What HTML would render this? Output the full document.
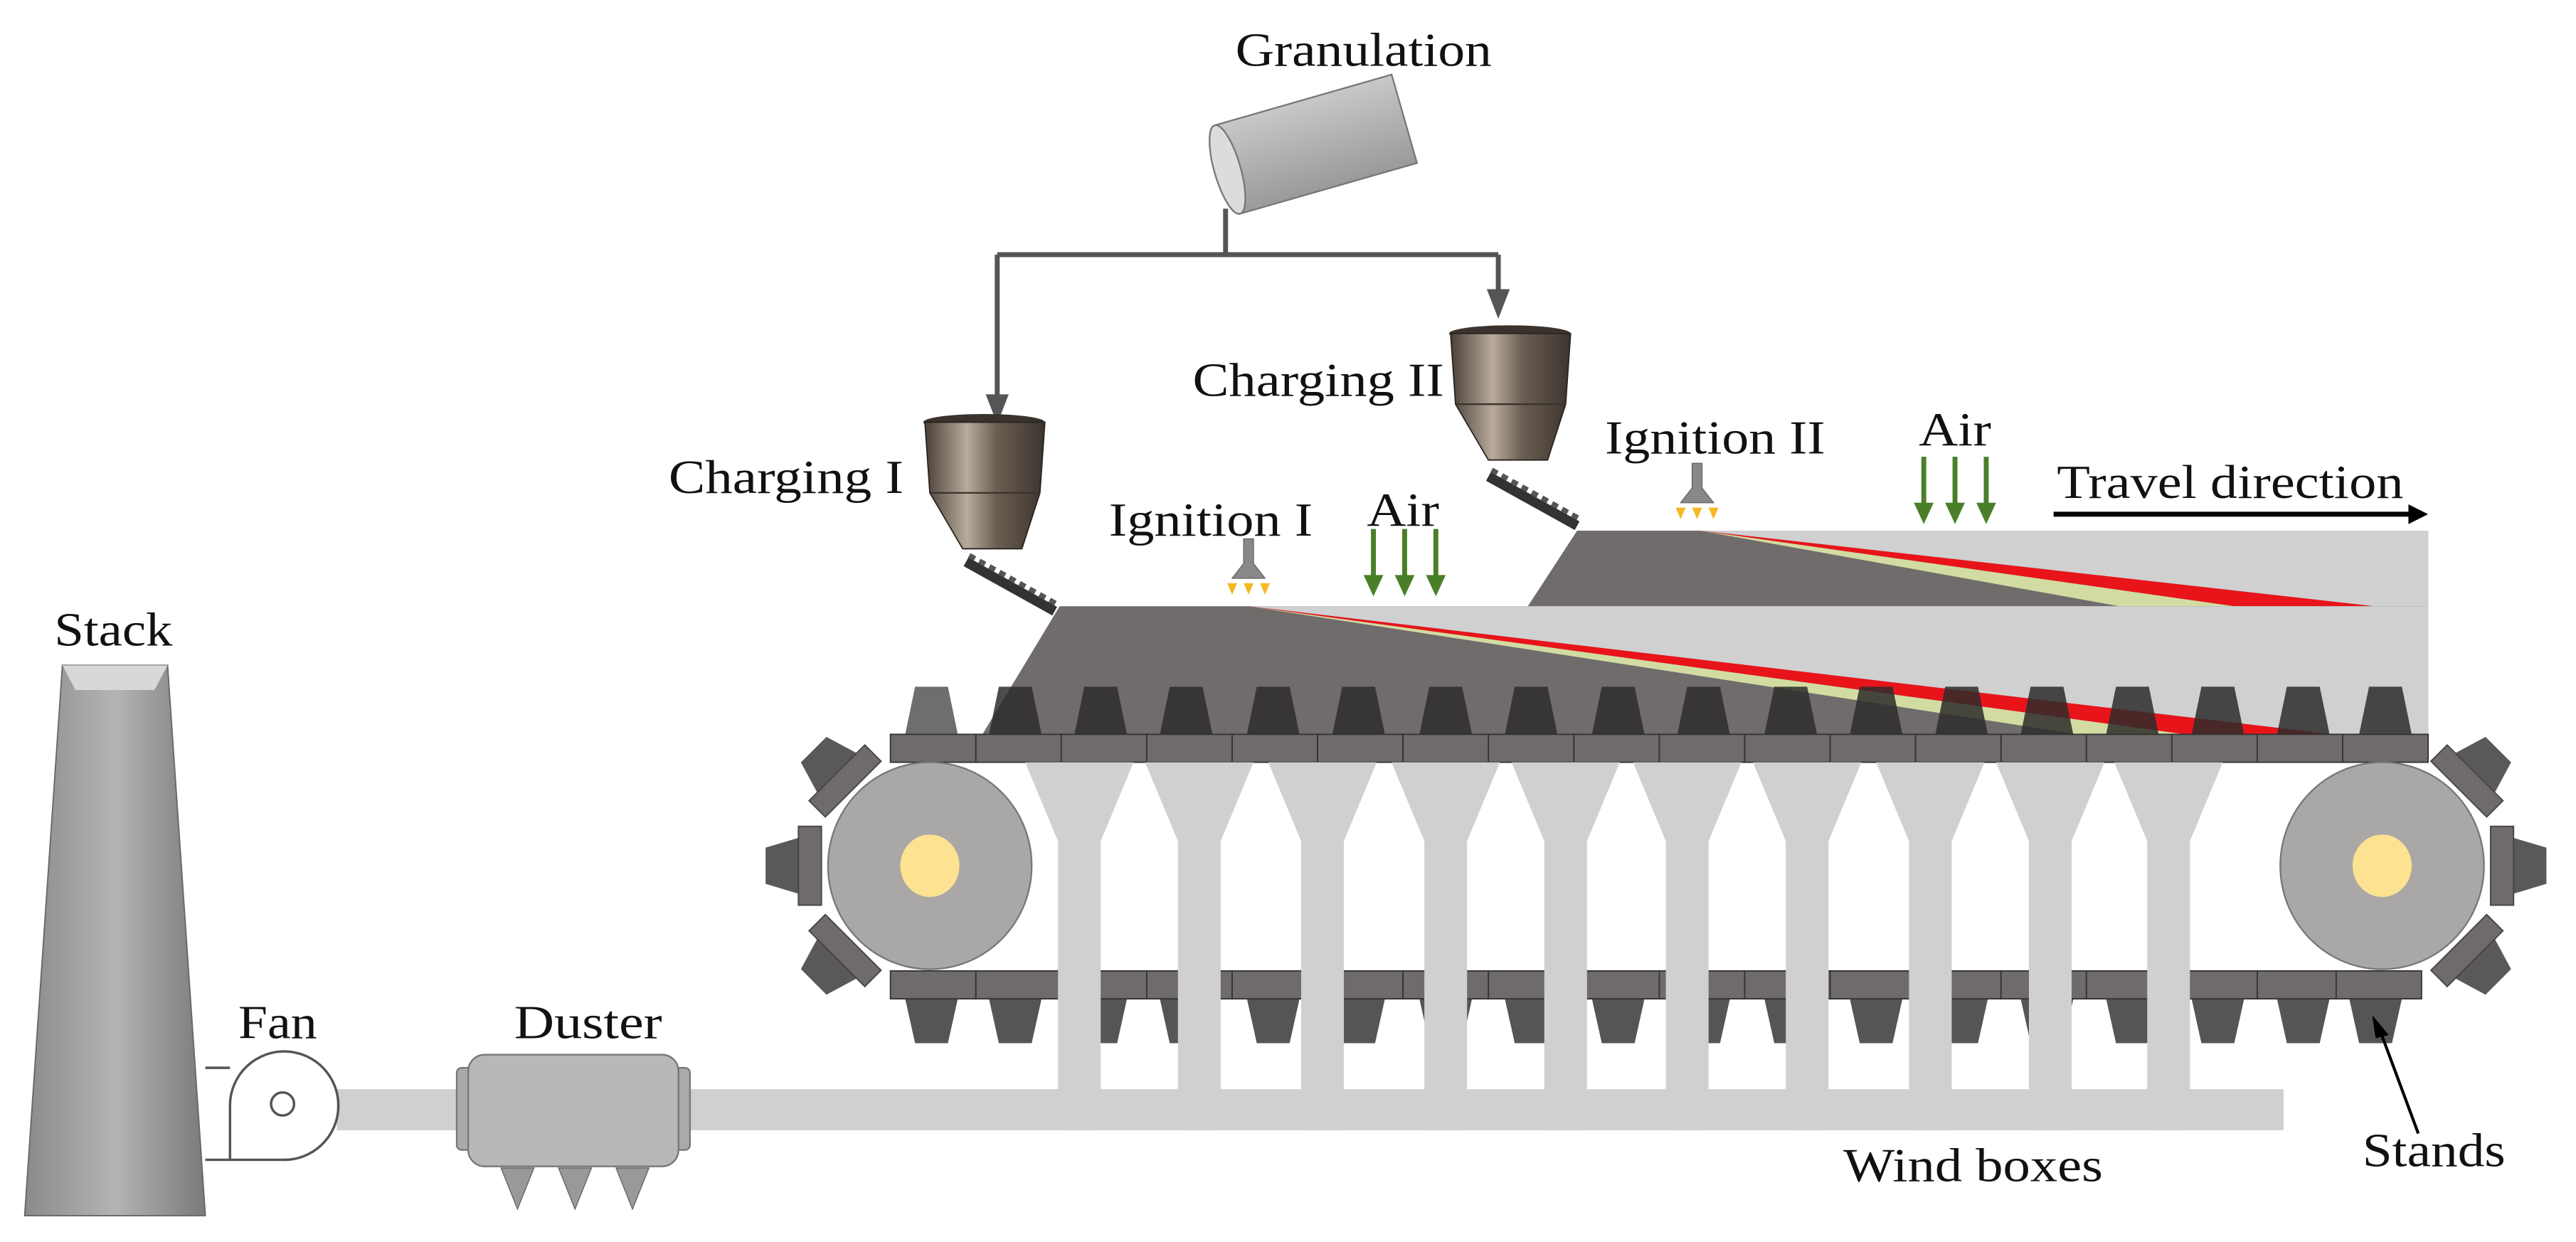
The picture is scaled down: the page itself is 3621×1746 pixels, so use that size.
<!DOCTYPE html>
<html><head><meta charset="utf-8"><style>
html,body{margin:0;padding:0;background:#fff;}
svg{display:block;}
text{font-family:"Liberation Serif",serif;fill:#111;}
</style></head><body>
<svg width="3621" height="1746" viewBox="0 0 1568 756" xmlns="http://www.w3.org/2000/svg">
<defs>
<linearGradient id="hop" x1="0" x2="1" y1="0" y2="0">
<stop offset="0" stop-color="#4a4038"/><stop offset="0.35" stop-color="#b8ab9c"/><stop offset="0.6" stop-color="#6a5e52"/><stop offset="1" stop-color="#3c342e"/>
</linearGradient>
<linearGradient id="stk" x1="0" x2="1">
<stop offset="0" stop-color="#8a8a8a"/><stop offset="0.5" stop-color="#b4b4b4"/><stop offset="1" stop-color="#7a7a7a"/>
</linearGradient>
<linearGradient id="cyl" x1="0" x2="0" y1="0" y2="1">
<stop offset="0" stop-color="#c8c8c8"/><stop offset="1" stop-color="#9a9a9a"/>
</linearGradient>
<polygon id="tt" points="-10,0 10,0 16,29 -16,29"/>
<polygon id="bt" points="-16,0 16,0 10,27 -10,27"/>
<g id="lug">
<polygon points="-100,-11 -80,-17 -80,17 -100,11" fill="#5a5858"/>
<rect x="-80" y="-24" width="14" height="48" fill="#6f6b6b" stroke="#444" stroke-width="0.8"/>
</g>
</defs>

<!-- Granulation cylinder -->
<g transform="rotate(-16 800 88)">
<rect x="745" y="60" width="112" height="56" fill="url(#cyl)" stroke="#777" stroke-width="1"/>
<ellipse cx="745" cy="88" rx="8" ry="28" fill="#dcdcdc" stroke="#777" stroke-width="1"/>
</g>

<!-- feed pipes -->
<path d="M746 127 V155 M607 155 H912 M607 155 V242 M912 155 V178" stroke="#555" stroke-width="3" fill="none"/>
<polygon points="600,240 614,240 607,258" fill="#555"/>
<polygon points="905,176 919,176 912,194" fill="#555"/>

<!-- hoppers -->
<g>
<ellipse cx="599" cy="257" rx="37" ry="5" fill="#3a332d"/>
<path d="M563 257 L636 257 L633 300 L622 334 L586 334 L566 300 Z" fill="url(#hop)" stroke="#2a2520" stroke-width="0.8"/>
<line x1="566" y1="300" x2="633" y2="300" stroke="#3a332d" stroke-width="1"/>
</g>
<g transform="translate(320,-54)">
<ellipse cx="599" cy="257" rx="37" ry="5" fill="#3a332d"/>
<path d="M563 257 L636 257 L633 300 L622 334 L586 334 L566 300 Z" fill="url(#hop)" stroke="#2a2520" stroke-width="0.8"/>
<line x1="566" y1="300" x2="633" y2="300" stroke="#3a332d" stroke-width="1"/>
</g>
<!-- chutes -->
<line x1="588" y1="342" x2="642" y2="372" stroke="#333" stroke-width="6"/>
<line x1="590" y1="338" x2="644" y2="368" stroke="#555" stroke-width="3" stroke-dasharray="4 3"/>
<line x1="906" y1="290" x2="960" y2="320" stroke="#333" stroke-width="6"/>
<line x1="908" y1="286" x2="962" y2="316" stroke="#555" stroke-width="3" stroke-dasharray="4 3"/>

<!-- upper bed -->
<polygon points="960,323 1478,323 1478,369 930,369" fill="#706c6c"/>
<polygon points="1035,323 1478,323 1478,369 1445,369" fill="#d0d0d0"/>
<polygon points="1035,323 1445,369 1360,369" fill="#e8141a"/>
<polygon points="1035,323 1360,369 1290,369" fill="#d2dca2"/>

<!-- lower bed -->
<polygon points="645,369 1478,369 1478,447 598,447" fill="#706c6c"/>
<polygon points="760,369 1478,369 1478,447 1420,447" fill="#d0d0d0"/>
<polygon points="760,369 1420,447 1330,447" fill="#e8141a"/>
<polygon points="760,369 1330,447 1265,447" fill="#d2dca2"/>

<!-- top teeth -->
<g fill="#2e2c2c" fill-opacity="0.85">
<use href="#tt" x="567" y="418" fill="#555"/>
<use href="#tt" x="618" y="418"/><use href="#tt" x="670" y="418"/><use href="#tt" x="722" y="418"/>
<use href="#tt" x="775" y="418"/><use href="#tt" x="827" y="418"/><use href="#tt" x="880" y="418"/>
<use href="#tt" x="932" y="418"/><use href="#tt" x="985" y="418"/><use href="#tt" x="1037" y="418"/>
<use href="#tt" x="1090" y="418"/><use href="#tt" x="1142" y="418"/><use href="#tt" x="1194" y="418"/>
<use href="#tt" x="1246" y="418"/><use href="#tt" x="1298" y="418"/><use href="#tt" x="1350" y="418"/>
<use href="#tt" x="1402" y="418"/><use href="#tt" x="1452" y="418"/>
</g>

<!-- top grate bar -->
<g fill="#6f6b6b" stroke="#333" stroke-width="0.8">
<rect x="542" y="447" width="52" height="17"/><rect x="594" y="447" width="52" height="17"/>
<rect x="646" y="447" width="52" height="17"/><rect x="698" y="447" width="52" height="17"/>
<rect x="750" y="447" width="52" height="17"/><rect x="802" y="447" width="52" height="17"/>
<rect x="854" y="447" width="52" height="17"/><rect x="906" y="447" width="52" height="17"/>
<rect x="958" y="447" width="52" height="17"/><rect x="1010" y="447" width="52" height="17"/>
<rect x="1062" y="447" width="52" height="17"/><rect x="1114" y="447" width="52" height="17"/>
<rect x="1166" y="447" width="52" height="17"/><rect x="1218" y="447" width="52" height="17"/>
<rect x="1270" y="447" width="52" height="17"/><rect x="1322" y="447" width="52" height="17"/>
<rect x="1374" y="447" width="52" height="17"/><rect x="1426" y="447" width="52" height="17"/>
</g>

<!-- bottom teeth -->
<g fill="#555">
<use href="#bt" x="567" y="608"/><use href="#bt" x="618" y="608"/><use href="#bt" x="670" y="608"/>
<use href="#bt" x="722" y="608"/><use href="#bt" x="775" y="608"/><use href="#bt" x="827" y="608"/>
<use href="#bt" x="880" y="608"/><use href="#bt" x="932" y="608"/><use href="#bt" x="985" y="608"/>
<use href="#bt" x="1037" y="608"/><use href="#bt" x="1090" y="608"/><use href="#bt" x="1142" y="608"/>
<use href="#bt" x="1194" y="608"/><use href="#bt" x="1246" y="608"/><use href="#bt" x="1298" y="608"/>
<use href="#bt" x="1350" y="608"/><use href="#bt" x="1402" y="608"/><use href="#bt" x="1446" y="608"/>
</g>
<!-- bottom grate bar -->
<g fill="#6f6b6b" stroke="#333" stroke-width="0.8">
<rect x="542" y="591" width="52" height="17"/><rect x="594" y="591" width="52" height="17"/>
<rect x="646" y="591" width="52" height="17"/><rect x="698" y="591" width="52" height="17"/>
<rect x="750" y="591" width="52" height="17"/><rect x="802" y="591" width="52" height="17"/>
<rect x="854" y="591" width="52" height="17"/><rect x="906" y="591" width="52" height="17"/>
<rect x="958" y="591" width="52" height="17"/><rect x="1010" y="591" width="52" height="17"/>
<rect x="1062" y="591" width="52" height="17"/><rect x="1114" y="591" width="52" height="17"/>
<rect x="1166" y="591" width="52" height="17"/><rect x="1218" y="591" width="52" height="17"/>
<rect x="1270" y="591" width="52" height="17"/><rect x="1322" y="591" width="52" height="17"/>
<rect x="1374" y="591" width="52" height="17"/><rect x="1422" y="591" width="52" height="17"/>
</g>

<!-- main duct -->
<rect x="205" y="663" width="1185" height="25" fill="#d0d0d0"/>
<!-- wind boxes -->
<g fill="#d0d0d0">
<path d="M624 464 H690 L670 512 V688 H644 V512 Z"/>
<path d="M697 464 H763 L743 512 V688 H717 V512 Z"/>
<path d="M772 464 H838 L818 512 V688 H792 V512 Z"/>
<path d="M847 464 H913 L893 512 V688 H867 V512 Z"/>
<path d="M920 464 H986 L966 512 V688 H940 V512 Z"/>
<path d="M994 464 H1060 L1040 512 V688 H1014 V512 Z"/>
<path d="M1067 464 H1133 L1113 512 V688 H1087 V512 Z"/>
<path d="M1142 464 H1208 L1188 512 V688 H1162 V512 Z"/>
<path d="M1215 464 H1281 L1261 512 V688 H1235 V512 Z"/>
<path d="M1287 464 H1353 L1333 512 V688 H1307 V512 Z"/>
</g>

<!-- wheels -->
<g transform="translate(566,527)">
<use href="#lug"/><use href="#lug" transform="rotate(45)"/><use href="#lug" transform="rotate(-45)"/>
<ellipse cx="0" cy="0" rx="62" ry="63" fill="#aaa7a7" stroke="#777" stroke-width="1"/>
<ellipse cx="0" cy="0" rx="18" ry="19" fill="#fde391"/>
</g>
<g transform="translate(1450,527) scale(-1,1)">
<use href="#lug"/><use href="#lug" transform="rotate(45)"/><use href="#lug" transform="rotate(-45)"/>
<ellipse cx="0" cy="0" rx="62" ry="63" fill="#aaa7a7" stroke="#777" stroke-width="1"/>
<ellipse cx="0" cy="0" rx="18" ry="19" fill="#fde391"/>
</g>

<!-- ignition icons -->
<g>
<polygon points="757,328 763,328 763,343 770,352 750,352 757,343" fill="#888" stroke="#666" stroke-width="0.6"/>
<g fill="#f5b820"><polygon points="747,355 753,355 750,362"/><polygon points="757,355 763,355 760,362"/><polygon points="767,355 773,355 770,362"/></g>
</g>
<g transform="translate(273,-46)">
<polygon points="757,328 763,328 763,343 770,352 750,352 757,343" fill="#888" stroke="#666" stroke-width="0.6"/>
<g fill="#f5b820"><polygon points="747,355 753,355 750,362"/><polygon points="757,355 763,355 760,362"/><polygon points="767,355 773,355 770,362"/></g>
</g>

<!-- air arrows -->
<g stroke="#4a7f2a" stroke-width="3">
<line x1="836" y1="322" x2="836" y2="352"/><line x1="855" y1="322" x2="855" y2="352"/><line x1="874" y1="322" x2="874" y2="352"/>
<line x1="1171" y1="278" x2="1171" y2="308"/><line x1="1190" y1="278" x2="1190" y2="308"/><line x1="1209" y1="278" x2="1209" y2="308"/>
</g>
<g fill="#4a7f2a">
<polygon points="830,350 842,350 836,363"/><polygon points="849,350 861,350 855,363"/><polygon points="868,350 880,350 874,363"/>
<polygon points="1165,306 1177,306 1171,319"/><polygon points="1184,306 1196,306 1190,319"/><polygon points="1203,306 1215,306 1209,319"/>
</g>

<!-- travel direction arrow -->
<line x1="1250" y1="313" x2="1468" y2="313" stroke="#000" stroke-width="3"/>
<polygon points="1466,307 1478,313 1466,319" fill="#000"/>

<!-- stack -->
<polygon points="38,405 102,405 125,740 15,740" fill="url(#stk)" stroke="#666" stroke-width="0.8"/>
<polygon points="38,405 102,405 94,420 46,420" fill="#d8d8d8"/>

<!-- fan -->
<path d="M125 650 H140 M125 706 H172 A33 33 0 1 0 140 672 V706" fill="none" stroke="#555" stroke-width="1.5"/>
<circle cx="172" cy="672" r="7" fill="#fff" stroke="#555" stroke-width="1.5"/>

<!-- duster -->
<rect x="278" y="650" width="12" height="50" rx="3" fill="#aaa" stroke="#777"/>
<rect x="408" y="650" width="12" height="50" rx="3" fill="#aaa" stroke="#777"/>
<rect x="285" y="642" width="128" height="68" rx="10" fill="#b8b8b8" stroke="#777" stroke-width="1"/>
<g fill="#999" stroke="#666" stroke-width="0.6">
<polygon points="305,711 325,711 315,736"/><polygon points="340,711 360,711 350,736"/><polygon points="375,711 395,711 385,736"/>
</g>

<!-- stands arrow -->
<line x1="1472" y1="690" x2="1449" y2="628" stroke="#000" stroke-width="1.8"/>
<polygon points="1444,618 1454,630 1446,632" fill="#000"/>

<!-- labels -->
<g font-size="29">
<text x="830" y="40" text-anchor="middle" textLength="156" lengthAdjust="spacingAndGlyphs">Granulation</text>
<text x="407" y="300" textLength="143" lengthAdjust="spacingAndGlyphs">Charging I</text>
<text x="726" y="241" textLength="153" lengthAdjust="spacingAndGlyphs">Charging II</text>
<text x="675" y="326" textLength="124" lengthAdjust="spacingAndGlyphs">Ignition I</text>
<text x="832" y="320" textLength="44" lengthAdjust="spacingAndGlyphs">Air</text>
<text x="977" y="276" textLength="134" lengthAdjust="spacingAndGlyphs">Ignition II</text>
<text x="1168" y="271" textLength="44" lengthAdjust="spacingAndGlyphs">Air</text>
<text x="1252" y="303" textLength="211" lengthAdjust="spacingAndGlyphs">Travel direction</text>
<text x="33" y="393" textLength="72" lengthAdjust="spacingAndGlyphs">Stack</text>
<text x="145" y="632" textLength="48" lengthAdjust="spacingAndGlyphs">Fan</text>
<text x="313" y="632" textLength="90" lengthAdjust="spacingAndGlyphs">Duster</text>
<text x="1122" y="719" textLength="158" lengthAdjust="spacingAndGlyphs">Wind boxes</text>
<text x="1438" y="710" textLength="87" lengthAdjust="spacingAndGlyphs">Stands</text>
</g>
</svg>
</body></html>
